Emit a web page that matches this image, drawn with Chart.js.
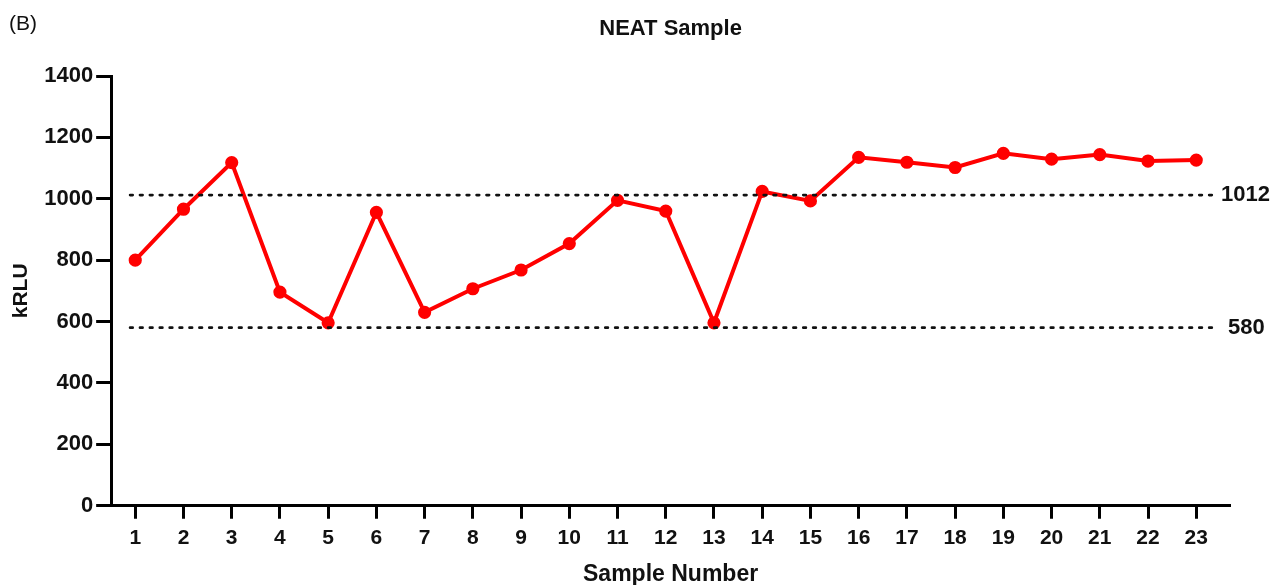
<!DOCTYPE html>
<html>
<head>
<meta charset="utf-8">
<script src="https://cdn.jsdelivr.net/npm/chart.js"></script>
<style>
  html, body { margin: 0; padding: 0; background: #fff; }
  #wrap { width: 1274px; height: 585px; position: relative; }
</style>
</head>
<body>
<div id="wrap"><canvas id="neat" width="1274" height="585"></canvas></div>
<script>
// data
var samples = [1, 2, 3, 4, 5, 6, 7, 8, 9, 10, 11, 12, 13, 14, 15, 16, 17, 18, 19, 20, 21, 22, 23];
var kRLU = [800, 966, 1118, 696, 596, 956, 630, 707, 768, 854, 995, 960, 596, 1024, 993, 1135, 1119, 1102, 1148, 1129, 1144, 1123, 1126];
var refLines = [1012, 580];
var yTicks = [0, 200, 400, 600, 800, 1000, 1200, 1400];
var chartTitle = 'NEAT Sample';

var points = samples.map(function (s, i) { return { x: s, y: kRLU[i] }; });
var FONT = '"Liberation Sans", Arial, sans-serif';

// dotted cut-off lines, their labels, the panel letter and the title
var cutoffs = {
	id: 'cutoffs',
	afterDatasetsDraw: function (chart) {
		var c = chart.ctx, a = chart.chartArea, y = chart.scales.y;
		c.save();
		refLines.forEach(function (v) {
			var py = y.getPixelForValue(v);
			c.beginPath();
			c.setLineDash([2.5, 7.4]);
			c.lineCap = 'round';
			c.lineWidth = 2.8;
			c.strokeStyle = '#111';
			c.moveTo(a.left + 19, py);
			c.lineTo(a.right - 15, py);
			c.stroke();
			c.setLineDash([]);
			c.fillStyle = '#111';
			c.font = 'bold 22px ' + FONT;
			c.textBaseline = 'middle';
			c.textAlign = 'left';
			c.fillText(String(v), v >= 1000 ? a.right - 9 : a.right - 2, py);
		});
		c.font = '21px ' + FONT;
		c.textBaseline = 'middle';
		c.fillText('(B)', 9, 24);
		c.font = 'bold 22px ' + FONT;
		c.textAlign = 'center';
		c.fillText(chartTitle, (a.left + a.right) / 2, 29);
		c.restore();
	}
};

var ctx = document.getElementById('neat');
var myChart = new Chart(ctx, {
	type: 'line',
	data: {
		datasets: [{
			label: 'NEAT',
			data: points,
			borderColor: '#ff0000',
			backgroundColor: '#ff0000',
			borderWidth: 4,
			pointRadius: 4.6,
			pointHoverRadius: 4.6,
			tension: 0
		}]
	},
	plugins: [cutoffs],
	options: {
		responsive: false,
		animation: false,
		layout: { padding: { left: 9, right: 44, top: 76, bottom: 0.5 } },
		plugins: {
			legend: { display: false },
			tooltip: { enabled: false },
			title: { display: false }
		},
		scales: {
			x: {
				type: 'linear',
				min: 0.5,
				max: 23.7,
				afterBuildTicks: function (axis) {
					axis.ticks = samples.map(function (s) { return { value: s }; });
				},
				border: { display: true, color: '#000', width: 3 },
				grid: { drawOnChartArea: false, drawTicks: true, tickLength: 13, tickWidth: 3, color: '#000' },
				ticks: {
					color: '#111',
					padding: 7,
					font: { family: FONT, size: 21, weight: 'bold' }
				},
				title: {
					display: true,
					text: 'Sample Number',
					color: '#111',
					padding: { top: 7, bottom: 0 },
					font: { family: FONT, size: 23, weight: 'bold', lineHeight: 0.85 }
				}
			},
			y: {
				min: 0,
				max: 1400,
				afterBuildTicks: function (axis) {
					axis.ticks = yTicks.map(function (v) { return { value: v }; });
				},
				border: { display: true, color: '#000', width: 3 },
				grid: { drawOnChartArea: false, drawTicks: true, tickLength: 15, tickWidth: 3, color: '#000' },
				ticks: {
					color: '#111',
					padding: 3,
					callback: function (v) { return String(v); },
					font: { family: FONT, size: 22, weight: 'bold' }
				},
				title: {
					display: true,
					text: 'kRLU',
					color: '#111',
					padding: { top: 0, bottom: 7 },
					font: { family: FONT, size: 21, weight: 'bold' }
				}
			}
		}
	}
});
</script>
</body>
</html>
